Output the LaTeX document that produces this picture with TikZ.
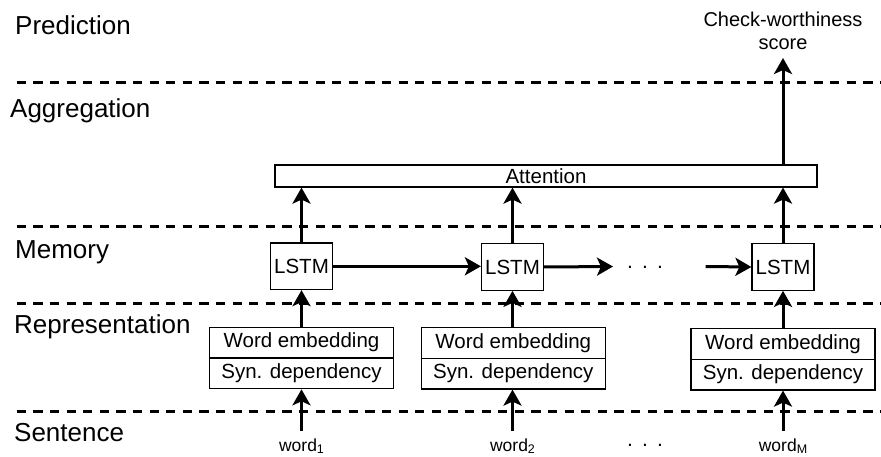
\documentclass[tikz,border=0pt]{standalone}
\usepackage{fontspec}
\setmainfont{Liberation Sans}
\usetikzlibrary{arrows.meta}
\begin{document}
\begin{tikzpicture}[x=1pt,y=-1pt,
  layer/.style={font=\fontsize{26}{30}\selectfont, anchor=base west, inner sep=0pt},
  sepline/.style={line width=3pt, dash pattern=on 9.3pt off 7.3pt},
  box/.style={draw, line width=1.2pt, font=\fontsize{20.5}{24}\selectfont, inner sep=0pt, align=center},
  lstm/.style={box, minimum width=62pt, minimum height=46.5pt},
  part/.style={box, minimum width=184pt, minimum height=30.8pt},
  wordlbl/.style={font=\fontsize{17.5}{20}\selectfont, inner sep=0pt, outer ysep=7.3pt, anchor=base},
  dots/.style={font=\fontsize{21}{24}\selectfont, inner sep=0pt, anchor=base},
  arr/.style={line width=3pt, -{Stealth[length=16pt,width=18pt,inset=4pt]}}
]
\useasboundingbox (0,0) rectangle (881,457);

% layer separators
\draw[sepline] (16.7,83) -- (881,83);
\draw[sepline] (16.7,227) -- (881,227);
\draw[sepline] (16.7,303) -- (881,303);
\draw[sepline] (16.7,411) -- (881,411);

% layer labels
\node[layer] (lp) at (15,34.3) {Prediction};
\node[layer] (la) at (10,117.3) {Aggregation};
\node[layer] (lm) at (15,258.3) {Memory};
\node[layer] (lr) at (14,333.3) {Representation};
\node[layer] (ls) at (14,441.7) {Sentence};

% attention
\node[box, minimum width=542pt, minimum height=22pt] (att) at (546,176) {Attention};

% LSTMs
\node[lstm] (l1) at (301.5,266.3) {LSTM};
\node[lstm] (l2) at (512.5,267) {LSTM};
\node[lstm] (l3) at (783,267) {LSTM};

% representation boxes
\node[part] (we1) at (301.5,342.5) {Word embedding};
\node[part] (sd1) at (301.5,373.3) {Syn. dependency};
\node[part] (we2) at (513.3,342.8) {Word embedding};
\node[part] (sd2) at (513.3,373.6) {Syn. dependency};
\node[part] (we3) at (783,343.8) {Word embedding};
\node[part] (sd3) at (783,374.6) {Syn. dependency};

% words
\node[wordlbl] (w1) at (301.5,451) {word\raisebox{-2.5pt}{\fontsize{12.5}{14}\selectfont 1}};
\node[wordlbl] (w2) at (512.5,451) {word\raisebox{-2.5pt}{\fontsize{12.5}{14}\selectfont 2}};
\node[wordlbl] (w3) at (783,451) {word\raisebox{-2.5pt}{\fontsize{12.5}{14}\selectfont M}};

% output
\node[font=\fontsize{20}{22.6}\selectfont, align=center, inner sep=0pt, outer ysep=8.5pt, anchor=south] (score) at (783,58) {Check-worthiness\\score};

% dots
\node[dots] (dm) at (645,268.5) {.\hspace{9.2pt}.\hspace{9.2pt}.};
\node[dots] (dw) at (645,446) {.\hspace{9.2pt}.\hspace{9.2pt}.};
\coordinate (d1) at (613,266.5);
\coordinate (d2) at (705.7,266.5);

% arrows
\draw[arr] (w1.north) -- (sd1.south);
\draw[arr] (w2.north) -- (sd2.south -| w2.north);
\draw[arr] (w3.north) -- (sd3.south);
\draw[arr] (we1.north) -- (l1.south);
\draw[arr] (we2.north -| l2.south) -- (l2.south);
\draw[arr] (we3.north) -- (l3.south);
\draw[arr] (l1.north) -- (l1.north |- att.south);
\draw[arr] (l2.north) -- (l2.north |- att.south);
\draw[arr] (l3.north) -- (l3.north |- att.south);
\draw[arr] (att.north -| l3.north) -- (score.south);
\draw[arr] (l1.east) -- (l2.west |- l1.east);
\draw[arr] (l2.east) -- (d1);
\draw[arr] (d2) -- (l3.west);
\end{tikzpicture}
\end{document}
